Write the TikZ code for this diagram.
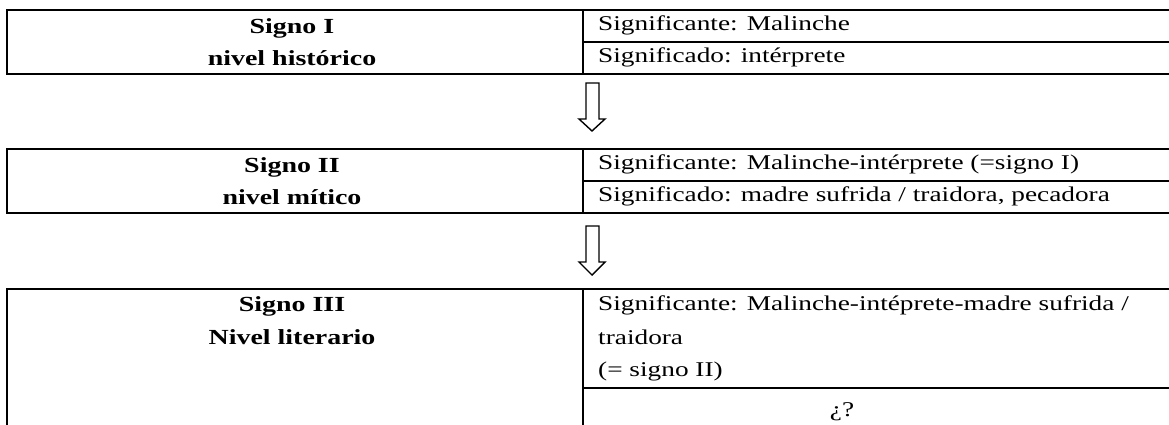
\documentclass[tikz,border=0pt]{standalone}
\usepackage{fontspec}
\setmainfont{Liberation Serif}[FakeStretch=1.3]
\tikzset{
  frame/.style={draw=black, line width=1.8pt},
  rule/.style={draw=black, line width=1.6pt},
  lefttext/.style={font=\fontsize{21.5}{32}\selectfont\bfseries, align=center, inner sep=0pt},
  righttext/.style={font=\fontsize{21}{27}\selectfont, anchor=west, align=left, inner sep=0pt},
  blockarrow/.style={draw=black, line width=1.4pt, fill=white, line join=miter}
}
\begin{document}
\begin{tikzpicture}[x=1pt,y=-1pt]
\useasboundingbox (0,0) rectangle (1169,425);
\clip (0,0) rectangle (1169,425);
% box 1
\draw[frame] (7,10) rectangle (1185,74);
\draw[rule] (583,10) -- (583,74);
\draw[rule] (583,42) -- (1185,42);
\node[lefttext] (s1) at (292,42) {Signo I\\nivel histórico};
\node[righttext] (s1a) at (598,25) {Significante: Malinche};
\node[righttext] (s1b) at (598,57) {Significado: intérprete};
% arrow 1
\coordinate (a1) at (592,83);
\draw[blockarrow] (a1) ++(-6,0) -- ++(0,36) -- ++(-7,0) -- (592,131) -- ++(13,-12) -- ++(-6,0) -- ++(0,-36) -- cycle;
% box 2
\draw[frame] (7,149) rectangle (1185,213);
\draw[rule] (583,149) -- (583,213);
\draw[rule] (583,181) -- (1185,181);
\node[lefttext] (s2) at (292,181) {Signo II\\nivel mítico};
\node[righttext] (s2a) at (598,164) {Significante: Malinche-intérprete (=signo I)};
\node[righttext] (s2b) at (598,196) {Significado: madre sufrida / traidora, pecadora};
% arrow 2
\coordinate (a2) at (592,226);
\draw[blockarrow] (a2) ++(-6,0) -- ++(0,36) -- ++(-7,0) -- (592,275) -- ++(13,-13) -- ++(-6,0) -- ++(0,-36) -- cycle;
% box 3
\draw[frame] (7,289) rectangle (1185,440);
\draw[rule] (583,289) -- (583,440);
\draw[rule] (583,388) -- (1185,388);
\node[lefttext, font=\fontsize{21.5}{33}\selectfont\bfseries] (s3) at (292,321) {Signo III\\Nivel literario};
\node[righttext, anchor=base west] (s3a) at (598,310) {Significante: Malinche-intéprete-madre sufrida /};
\node[righttext, anchor=base west] (s3b) at (598,344) {traidora};
\node[righttext, anchor=base west] (s3c) at (598,376) {(= signo II)};
\node[font=\fontsize{21}{27}\selectfont, inner sep=0pt] (s3d) at (842,412) {¿?};
\end{tikzpicture}
\end{document}
